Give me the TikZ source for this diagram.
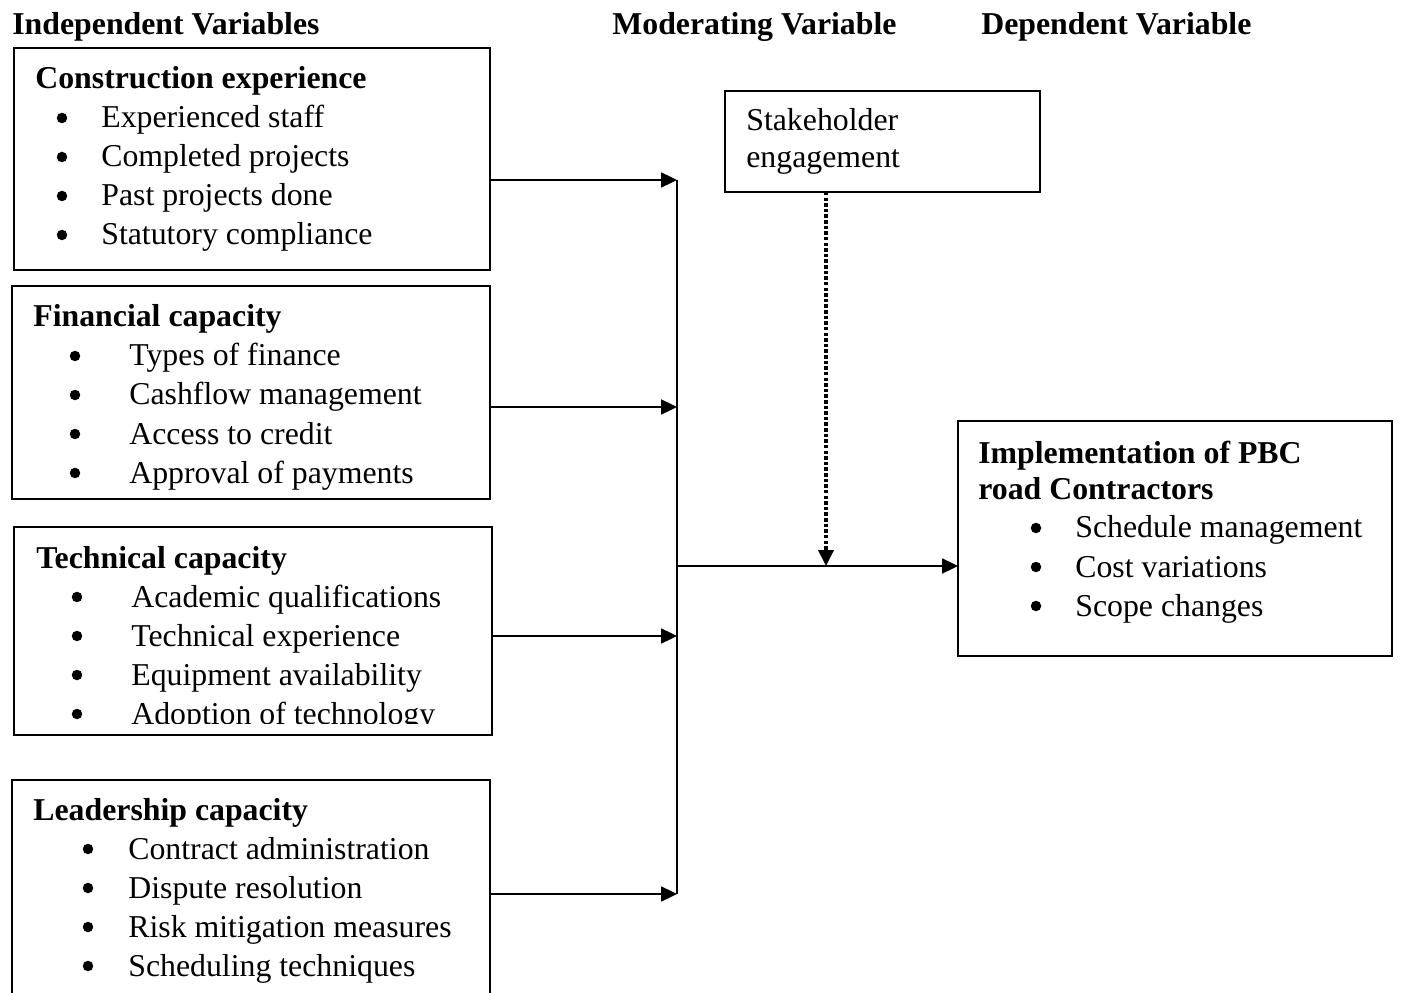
\documentclass[tikz,border=0pt]{standalone}
\usepackage{fontspec}
\setmainfont{Liberation Serif}
\usepackage{tikz}
\usetikzlibrary{arrows.meta,positioning}
\tikzset{
    box/.style={rectangle, draw, line width=1.1pt, inner sep=0pt, outer sep=0pt, anchor=north west},
    txt/.style={inner sep=0pt, anchor=base west, font=\fontsize{18.1}{22}\selectfont},
    head/.style={txt, font=\fontsize{18.1}{22}\selectfont\bfseries},
    bul/.style={circle, fill, inner sep=0pt, minimum size=0.21cm},
    edge/.style={draw, line width=1.1pt, -{Triangle[length=9pt,width=8.5pt]}},
    modedge/.style={draw, line width=2pt, dash pattern=on 2pt off 1.2pt, -{Triangle[length=9pt,width=8.5pt]}}
}

\begin{document}
\begin{tikzpicture}[x=0.02cm, y=-0.02cm]
    \clip (0,0) rectangle (1401,993);

    % Titles
    \node[head] (indep) at (12,35) {Independent Variables};
    \node[head] (moder) at (612,35) {Moderating Variable};
    \node[head] (depen) at (981,35) {Dependent Variable};

    % Boxes
    \node[box, minimum width=9.52cm, minimum height=4.44cm] (cons) at (14,48) {};
    \node[box, minimum width=9.56cm, minimum height=4.26cm] (fin) at (12,286) {};
    \node[box, minimum width=9.56cm, minimum height=4.16cm] (tech) at (14,527) {};
    \node[box, minimum width=9.56cm, minimum height=4.6cm] (lead) at (12,780) {};
    \node[box, minimum width=6.3cm, minimum height=2.02cm] (stake) at (725,91) {};
    \node[box, minimum width=8.68cm, minimum height=4.7cm] (impl) at (958,421) {};

    % Box texts
    \node[head] (consh) at (35,89) {Construction experience};
    \foreach \t [count=\i] in {Experienced staff, Completed projects, Past projects done, Statutory compliance}{
        \node[bul] (consb\i) at (62,79+39*\i) {};
        \node[txt] (consi\i) at (101,89+39*\i) {\t};
    }
    \node[head] (finh) at (33,327) {Financial capacity};
    \foreach \t [count=\i] in {Types of finance, Cashflow management, Access to credit, Approval of payments}{
        \node[bul] (finb\i) at (75,317+39*\i) {};
        \node[txt] (fini\i) at (129,327+39*\i) {\t};
    }
    \begin{scope}
        \clip (14,527) rectangle (492,723);
        \node[head] (techh) at (36,568) {Technical capacity};
        \foreach \t [count=\i] in {Academic qualifications, Technical experience, Equipment availability, Adoption of technology}{
            \node[bul] (techb\i) at (77,558+39*\i) {};
            \node[txt] (techi\i) at (131,568+39*\i) {\t};
        }
    \end{scope}
    \node[head] (leadh) at (33,820) {Leadership capacity};
    \foreach \t [count=\i] in {Contract administration, Dispute resolution, Risk mitigation measures, Scheduling techniques}{
        \node[bul] (leadb\i) at (88,810+39*\i) {};
        \node[txt] (leadi\i) at (128,820+39*\i) {\t};
    }
    \node[txt] (stake1) at (746,131) {Stakeholder};
    \node[txt] (stake2) at (746,168) {engagement};
    \node[head] (implh1) at (978,463) {Implementation of PBC};
    \node[head] (implh2) at (978,500) {road Contractors};
    \foreach \t [count=\i] in {Schedule management, Cost variations, Scope changes}{
        \node[bul] (implb\i) at (1036,489+39*\i) {};
        \node[txt] (impli\i) at (1075,499+39*\i) {\t};
    }

    % bus
    \coordinate (b1) at (677,180);
    \coordinate (b2) at (677,407);
    \coordinate (b3) at (677,636);
    \coordinate (b4) at (677,894);
    \coordinate (j) at (677,566);
    \coordinate (m) at (826,566);

    % edges
    \draw[line width=1.1pt] (b1) -- (b4);
    \draw[edge] (cons.east |- b1) -- (b1);
    \draw[edge] (fin.east |- b2) -- (b2);
    \draw[edge] (tech.east |- b3) -- (b3);
    \draw[edge] (lead.east |- b4) -- (b4);
    \draw[edge] (j) -- (impl.west |- j);
    \draw[modedge] (stake.south -| m) -- (m);
\end{tikzpicture}
\end{document}
